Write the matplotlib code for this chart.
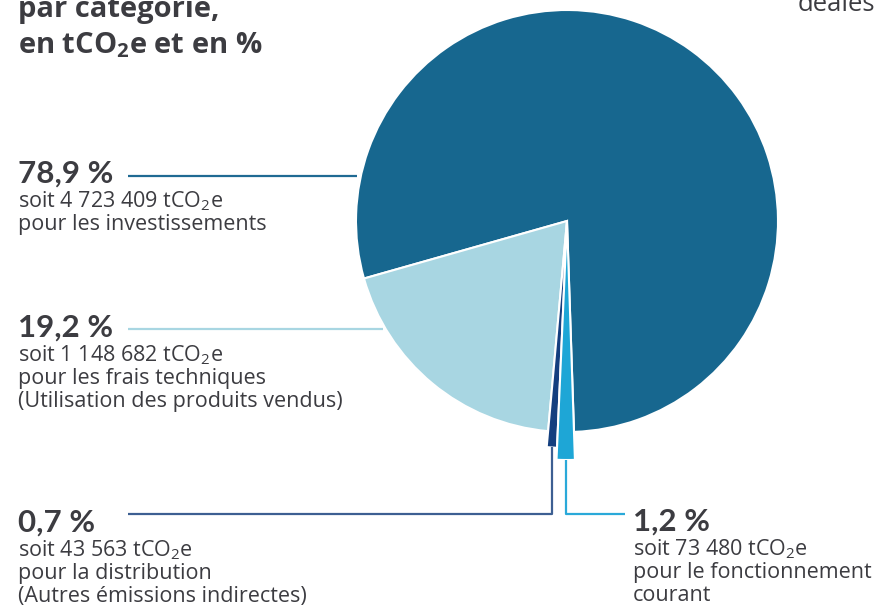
import matplotlib
matplotlib.use("Agg")
import matplotlib.pyplot as plt
import numpy as np

plt.rcParams['font.family'] = ['Open Sans', 'DejaVu Sans']
plt.rcParams['mathtext.fontset'] = 'custom'
plt.rcParams['mathtext.rm'] = 'Open Sans'
plt.rcParams['mathtext.it'] = 'Open Sans:italic'
plt.rcParams['mathtext.bf'] = 'Open Sans:bold'

# ---- data ----
categories = ["pour les investissements",
              "pour les frais techniques\n(Utilisation des produits vendus)",
              "pour la distribution\n(Autres émissions indirectes)",
              "pour le fonctionnement\ncourant"]
emissions = [4723409, 1148682, 43563, 73480]
colors = ["#17678f", "#a8d6e2", "#143f7f", "#1ea6d6"]
line_colors = ["#1f6a93", "#a8d6e2", "#3d5f92", "#2aa9d9"]

total = sum(emissions)
shares = [v / total * 100 for v in emissions]

def fmt_num(v):
    return f"{v:,}".replace(",", " ")

def fmt_pct(p):
    return f"{p:.1f}".replace(".", ",") + " %"

W, H = 878, 606
fig = plt.figure(figsize=(W / 100, H / 100), dpi=100)
ax = fig.add_axes([0, 0, 1, 1])

cx, cy, R = 567, 221, 211
wedges, _ = ax.pie(emissions, colors=colors, startangle=88.1, counterclock=False,
                   center=(cx, cy), radius=R,
                   wedgeprops=dict(edgecolor="white", linewidth=1.5))
# small slices pulled out
wedges[2].set_radius(227)
wedges[3].set_radius(239)

ax.set_xlim(0, W)
ax.set_ylim(H, 0)
ax.set_aspect("equal")
ax.axis("off")

txt = "#3c3c41"

def mid_point(w):
    a = np.deg2rad((w.theta1 + w.theta2) / 2)
    return cx + w.r * np.cos(a), cy + w.r * np.sin(a)

# leader lines
lw = 1.6
ax.plot([128, 357], [176, 176], color=line_colors[0], lw=lw, solid_capstyle="butt")
ax.plot([128, 383], [329, 329], color=line_colors[1], lw=lw, solid_capstyle="butt")
x2, y2 = mid_point(wedges[2])
ax.plot([128, x2, x2], [514, 514, y2], color=line_colors[2], lw=lw, solid_capstyle="butt")
x3, y3 = mid_point(wedges[3])
ax.plot([x3, x3, 625], [y3, 514, 514], color=line_colors[3], lw=lw, solid_capstyle="butt")

big = 22.5
small = 15.5
lsp = 23

def label(x, y, i):
    ax.text(x, y, fmt_pct(shares[i]), fontsize=big, fontweight="bold", color=txt,
            va="baseline", ha="left", family="Lato")
    lines = ["soit " + fmt_num(emissions[i]) + " tCO$_2$e"] + categories[i].split("\n")
    for k, s in enumerate(lines):
        ax.text(x, y + 24 + k * lsp, s, fontsize=small, color=txt, va="baseline", ha="left")

label(18, 183, 0)
label(18, 337, 1)
label(18, 532, 2)
label(633, 531, 3)

# title (cut at top)
ax.text(18, 17, "par catégorie,", fontsize=21, fontweight="bold", color=txt, va="baseline")
ax.text(18, 53, r"en tCO$_\mathbf{2}$e et en %", fontsize=21, fontweight="bold", color=txt,
        va="baseline")
ax.text(875, 11, "déales", fontsize=18.5, color=txt, va="baseline", ha="right")

fig.savefig("out.png", dpi=100)
